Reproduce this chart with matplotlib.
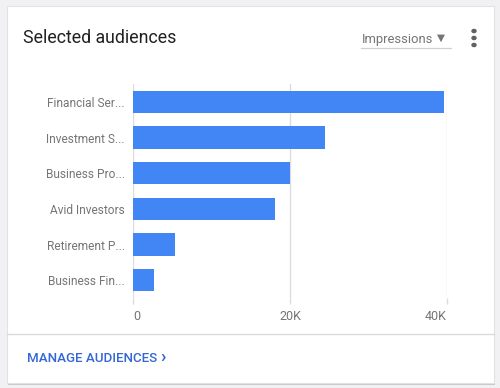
import matplotlib.pyplot as plt
from matplotlib.patches import Rectangle
from matplotlib.lines import Line2D

plt.rcParams['font.family'] = ['Roboto', 'DejaVu Sans']

audiences = ['Financial Ser...', 'Investment S...', 'Business Pro...',
             'Avid Investors', 'Retirement P...', 'Business Fin...']
impressions = [39600, 24500, 20000, 18100, 5350, 2700]
x_ticks = [0, 20000, 40000]
x_tick_labels = ['0', '20K', '40K']

W, H = 500, 388


def fx(px):
    return px / W


def fy(py):
    return 1 - py / H


fig = plt.figure(figsize=(5, 3.88), dpi=100, facecolor='#f1f1f3')

# card with a faint shadow
fig.patches.append(Rectangle((fx(8), fy(385)), fx(487), 379 / H,
                             transform=fig.transFigure, facecolor='#c8c8c8',
                             edgecolor='none', zorder=0))
fig.patches.append(Rectangle((fx(7), fy(383)), fx(487), 377 / H,
                             transform=fig.transFigure, facecolor='white',
                             edgecolor='#e2e2e2', linewidth=0.8, zorder=1))

# header
fig.text(fx(23), fy(38), 'Selected audiences', fontsize=12.8, color='#212121',
         va='center', ha='left')
fig.text(fx(362), fy(39), 'Impressions', fontsize=9.4, color='#757575',
         va='center', ha='left')
fig.text(fx(441), fy(38), '\u25BC', fontsize=7.5, color='#757575',
         va='center', ha='center', family=['DejaVu Sans'])
fig.lines.append(Line2D([fx(361), fx(451)], [fy(48), fy(48)],
                        transform=fig.transFigure, color='#d0d0d0', lw=0.9))
for dy in (31, 38, 45):
    fig.patches.append(plt.Circle((fx(474), fy(dy)), 2.0 / W,
                                  transform=fig.transFigure, color='#616161'))

# footer
fig.lines.append(Line2D([fx(7), fx(494)], [fy(334), fy(334)],
                        transform=fig.transFigure, color='#dadada', lw=1))
fig.text(fx(27), fy(358), 'MANAGE AUDIENCES', fontsize=9.6,
         color='#3367d6', fontweight='medium', va='center', ha='left')
fig.text(fx(163), fy(357), '\u203A', fontsize=13, color='#3367d6',
         fontweight='bold', va='center', ha='center')

ax = fig.add_axes([fx(133), fy(298), fx(447 - 133), (298 - 84) / H])
ax.set_zorder(2)
ax.patch.set_alpha(0)
y = list(range(len(audiences)))
ax.barh(y, impressions, height=0.63, color='#4285f4', zorder=3)
ax.set_ylim(len(audiences) - 0.5, -0.5)
ax.set_xlim(0, 40000)
ax.set_yticks(y)
ax.set_yticklabels(audiences)
ax.set_xticks(x_ticks)
ax.set_xticklabels(x_tick_labels)
ax.grid(axis='x', color='#dcdcdc', lw=1, zorder=0)
ax.tick_params(axis='y', length=0, pad=6, labelsize=8.6, labelcolor='#757575')
ax.tick_params(axis='x', length=4, width=1, color='#dcdcdc', pad=5,
               labelsize=9, labelcolor='#757575')
for lab, ha in zip(ax.get_xticklabels(), ['left', 'center', 'right']):
    lab.set_ha(ha)
for s in ax.spines.values():
    s.set_visible(False)

fig.savefig('out.png', dpi=100, facecolor=fig.get_facecolor())
